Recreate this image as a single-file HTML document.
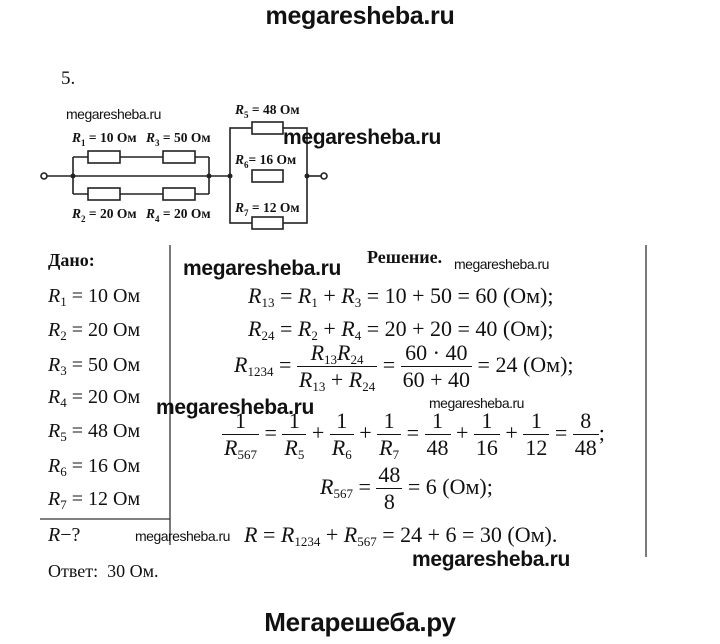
<!DOCTYPE html>
<html><head><meta charset="utf-8"><style>
body{margin:0;width:720px;height:644px;background:#fff;position:relative;overflow:hidden;font-family:"Liberation Serif",serif;color:#111}
.a{position:absolute;white-space:nowrap}
.wm{font-family:"Liberation Sans",sans-serif;font-weight:bold;font-size:21px;letter-spacing:-0.3px}
.ws{font-family:"Liberation Sans",sans-serif;font-size:14px;letter-spacing:-0.5px}
.g{font-size:20px}
i{font-style:italic}
sub{font-size:13px;vertical-align:-4px;line-height:0}
.f{display:inline-block;vertical-align:middle;text-align:center;line-height:1.2}
.f span{display:block;padding:0 2px}
.f span:first-child{border-bottom:1.5px solid #111}
.m{font-size:22px}
.c{font-size:13.5px;font-weight:bold}
</style></head><body>
<div class="a wm" style="left:0;width:720px;text-align:center;top:2px;font-size:25px">megaresheba.ru</div>
<div class="a" style="left:61px;top:68px;font-size:19px">5.</div>

<svg class="a" style="left:0;top:0" width="720" height="644">
<g stroke="#222" stroke-width="1.6" fill="#fff">
<line x1="47" y1="176" x2="230" y2="176"/>
<line x1="73" y1="157" x2="73" y2="194"/><line x1="209" y1="157" x2="209" y2="194"/>
<line x1="73" y1="157" x2="209" y2="157"/><line x1="73" y1="194" x2="209" y2="194"/>
<rect x="230" y="128" width="77" height="95" fill="none"/>
<line x1="307" y1="176" x2="321" y2="176"/>
<rect x="88" y="151" width="32" height="12"/><rect x="163" y="151" width="32" height="12"/>
<rect x="88" y="188" width="32" height="12"/><rect x="163" y="188" width="32" height="12"/>
<rect x="252" y="122" width="31" height="12"/><rect x="252" y="170" width="31" height="12"/><rect x="252" y="217" width="31" height="12"/>
<circle cx="44" cy="176" r="3"/><circle cx="324" cy="176" r="3"/>
</g>
<g fill="#222"><circle cx="73" cy="176" r="2.5"/><circle cx="209" cy="176" r="2.5"/><circle cx="230" cy="176" r="2.5"/><circle cx="307" cy="176" r="2.5"/></g>
<g stroke="#333" stroke-width="1.3">
<line x1="170" y1="245" x2="170" y2="545"/>
<line x1="40" y1="519" x2="170" y2="519"/>
<line x1="646" y1="245" x2="646" y2="557"/>
</g>
</svg>
<div class="a c" style="left:72px;top:130px"><i>R</i><sub style="font-size:9px">1</sub> = 10 Ом</div>
<div class="a c" style="left:146px;top:130px"><i>R</i><sub style="font-size:9px">3</sub> = 50 Ом</div>
<div class="a c" style="left:72px;top:206px"><i>R</i><sub style="font-size:9px">2</sub> = 20 Ом</div>
<div class="a c" style="left:146px;top:206px"><i>R</i><sub style="font-size:9px">4</sub> = 20 Ом</div>
<div class="a c" style="left:235px;top:102px"><i>R</i><sub style="font-size:9px">5</sub> = 48 Ом</div>
<div class="a c" style="left:235px;top:152px"><i>R</i><sub style="font-size:9px">6</sub>= 16 Ом</div>
<div class="a c" style="left:235px;top:200px"><i>R</i><sub style="font-size:9px">7</sub> = 12 Ом</div>
<div class="a ws" style="left:66px;top:106px">megaresheba.ru</div>
<div class="a wm" style="left:283px;top:126px">megaresheba.ru</div>

<div class="a" style="left:48px;top:250px;font-size:18px;font-weight:bold">Дано:</div>
<div class="a g" style="left:48px;top:285px"><i>R</i><sub>1</sub> = 10 Ом</div>
<div class="a g" style="left:48px;top:319px"><i>R</i><sub>2</sub> = 20 Ом</div>
<div class="a g" style="left:48px;top:354px"><i>R</i><sub>3</sub> = 50 Ом</div>
<div class="a g" style="left:48px;top:386px"><i>R</i><sub>4</sub> = 20 Ом</div>
<div class="a g" style="left:48px;top:420px"><i>R</i><sub>5</sub> = 48 Ом</div>
<div class="a g" style="left:48px;top:455px"><i>R</i><sub>6</sub> = 16 Ом</div>
<div class="a g" style="left:48px;top:488px"><i>R</i><sub>7</sub> = 12 Ом</div>
<div class="a g" style="left:48px;top:524px"><i>R</i>−?</div>
<div class="a" style="left:48px;top:561px;font-size:18px">Ответ:&nbsp; 30 Ом.</div>

<div class="a" style="left:367px;top:247px;font-size:18px;font-weight:bold">Решение.</div>
<div class="a ws" style="left:454px;top:256px">megaresheba.ru</div>
<div class="a wm" style="left:183px;top:257px">megaresheba.ru</div>
<div class="a m" style="left:248px;top:283px"><i>R</i><sub>13</sub> = <i>R</i><sub>1</sub> + <i>R</i><sub>3</sub> = 10 + 50 = 60 (Ом);</div>
<div class="a m" style="left:248px;top:316px"><i>R</i><sub>24</sub> = <i>R</i><sub>2</sub> + <i>R</i><sub>4</sub> = 20 + 20 = 40 (Ом);</div>
<div class="a m" style="left:234px;top:340px"><i>R</i><sub>1234</sub> = <span class="f"><span><i>R</i><sub>13</sub><i>R</i><sub>24</sub></span><span><i>R</i><sub>13</sub> + <i>R</i><sub>24</sub></span></span> = <span class="f"><span>60 · 40</span><span>60 + 40</span></span> = 24 (Ом);</div>
<div class="a wm" style="left:156px;top:396px">megaresheba.ru</div>
<div class="a ws" style="left:429px;top:395px">megaresheba.ru</div>
<div class="a m" style="left:222px;top:408px"><span class="f"><span>1</span><span><i>R</i><sub>567</sub></span></span> = <span class="f"><span>1</span><span><i>R</i><sub>5</sub></span></span> + <span class="f"><span>1</span><span><i>R</i><sub>6</sub></span></span> + <span class="f"><span>1</span><span><i>R</i><sub>7</sub></span></span> = <span class="f"><span>1</span><span>48</span></span> + <span class="f"><span>1</span><span>16</span></span> + <span class="f"><span>1</span><span>12</span></span> = <span class="f"><span>8</span><span>48</span></span>;</div>
<div class="a m" style="left:320px;top:462px"><i>R</i><sub>567</sub> = <span class="f"><span>48</span><span>8</span></span> = 6 (Ом);</div>
<div class="a ws" style="left:135px;top:528px">megaresheba.ru</div>
<div class="a m" style="left:244px;top:522px"><i>R</i> = <i>R</i><sub>1234</sub> + <i>R</i><sub>567</sub> = 24 + 6 = 30 (Ом).</div>
<div class="a wm" style="left:412px;top:548px">megaresheba.ru</div>

<div class="a wm" style="left:0;width:720px;text-align:center;top:607px;font-size:26px">Мегарешеба.ру</div>
</body></html>
